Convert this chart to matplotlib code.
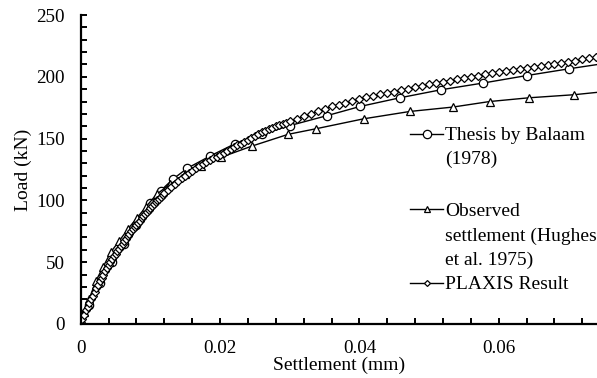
import matplotlib
matplotlib.use("Agg")
import matplotlib.pyplot as plt
from matplotlib.lines import Line2D
from matplotlib.ticker import MultipleLocator, FuncFormatter

plt.rcParams['font.family'] = ['Liberation Serif', 'DejaVu Serif']

# ---------------- data ----------------
thesis_x = [0, 0.0012, 0.0028, 0.0045, 0.0062, 0.008, 0.0099, 0.0115, 0.0133, 0.0153,
            0.0186, 0.0222, 0.026, 0.030, 0.0353, 0.0401, 0.0458, 0.0517, 0.0578, 0.064,
            0.0701, 0.076]
thesis_y = [0, 15, 33, 50, 65, 80, 97.6, 108, 117.5, 126,
            136, 146, 153.5, 160.5, 168.5, 176, 183, 189.5, 195, 201,
            206.5, 211.5]

observed_x = [0, 0.0005, 0.0012, 0.0022, 0.0032, 0.0043, 0.0055, 0.0068, 0.0081, 0.0094,
              0.0109, 0.0128, 0.015, 0.0172, 0.0202, 0.0246, 0.0298, 0.0338, 0.0406, 0.0473,
              0.0534, 0.0587, 0.0643, 0.0708, 0.076]
observed_y = [0, 10, 20, 35, 46, 58, 67, 77, 86, 95,
              105, 113, 121, 128, 135, 144, 153.5, 158, 166, 172,
              175.5, 180, 183, 185.5, 188.5]

plaxis_x = [0, 0.00025, 0.0005, 0.00075, 0.001, 0.00125, 0.0015, 0.00175, 0.002, 0.00225,
            0.0025, 0.00275, 0.003, 0.00325, 0.0035, 0.00375, 0.004, 0.00425, 0.0045, 0.00475,
            0.005, 0.00525, 0.0055, 0.00575, 0.006, 0.00625, 0.0065, 0.00675, 0.007, 0.00725,
            0.0075, 0.00775, 0.008, 0.00825, 0.0085, 0.00875, 0.009, 0.00925, 0.0095, 0.00975,
            0.01, 0.01025, 0.0105, 0.01075, 0.011, 0.01125, 0.0115, 0.01175, 0.012,
            0.0125, 0.013, 0.0135, 0.014, 0.0145, 0.015, 0.0155, 0.016, 0.0165, 0.017,
            0.0175, 0.018, 0.0185, 0.019, 0.0195, 0.02, 0.0205, 0.021, 0.0215, 0.022,
            0.0225, 0.023, 0.0235, 0.024, 0.0245, 0.025, 0.0255, 0.026, 0.0265, 0.027,
            0.0275, 0.028, 0.0285, 0.029, 0.0295, 0.03,
            0.031, 0.032, 0.033, 0.034, 0.035, 0.036, 0.037, 0.038, 0.039, 0.04,
            0.041, 0.042, 0.043, 0.044, 0.045, 0.046, 0.047, 0.048, 0.049, 0.05,
            0.051, 0.052, 0.053, 0.054, 0.055, 0.056, 0.057, 0.058, 0.059, 0.06,
            0.061, 0.062, 0.063, 0.064, 0.065, 0.066, 0.067, 0.068, 0.069, 0.07,
            0.071, 0.072, 0.073, 0.074]
plaxis_y = [0, 4, 7.5, 11, 14, 17, 20, 23, 26, 29,
            31.5, 34.5, 37, 40, 42.5, 45.5, 48, 50, 52.5, 55,
            57, 59, 61, 63, 65, 67, 69, 71, 73, 75,
            76.5, 78.5, 80, 82, 83.5, 85.5, 87, 89, 90.5, 92.5,
            94, 95.5, 97, 98.5, 100, 101.5, 103, 104.5, 106,
            108.5, 111, 113.5, 116, 118, 120, 122, 124, 126, 127.5,
            129.5, 131, 132.5, 134, 135.5, 137, 138.5, 140, 141.5, 143,
            144.5, 146, 147.5, 149, 150.5, 152, 153.5, 155, 156, 157.5,
            158.5, 160, 161, 162, 163, 164,
            166, 168, 170, 172, 174, 176, 177.5, 179, 180.5, 182,
            183.3, 184.5, 185.7, 187, 188, 189.2, 190.4, 191.6, 192.8, 194,
            195, 196, 197, 198, 199, 200, 201, 202, 203, 204,
            204.8, 205.6, 206.4, 207.2, 208, 208.8, 209.6, 210.4, 211.2, 212,
            213, 214, 215, 216]

labels = ["Thesis by Balaam\n(1978)",
          "Observed\nsettlement (Hughes\net al. 1975)",
          "PLAXIS Result"]
x_ticks = [0, 0.02, 0.04, 0.06]
y_ticks = [0, 50, 100, 150, 200, 250]

# ---------------- figure ----------------
W, H = 597, 378
fig = plt.figure(figsize=(W / 100, H / 100), dpi=100)
ax = fig.add_axes([80.7 / W, (H - 324) / H, (W - 80.7) / W, (324 - 15) / H])

common = dict(color='black', lw=1.0, markerfacecolor='white', markeredgecolor='black',
              markeredgewidth=0.9)
ax.plot(thesis_x, thesis_y, marker='o', markersize=6.0, **common)
ax.plot(observed_x, observed_y, marker='^', markersize=5.6, **common)
ax.plot(plaxis_x, plaxis_y, marker='D', markersize=3.7, **common)

ax.set_xlim(0, 0.0741)
ax.set_ylim(0, 250)
ax.set_xticks(x_ticks)
ax.set_yticks(y_ticks)
ax.xaxis.set_minor_locator(MultipleLocator(0.004))
ax.yaxis.set_minor_locator(MultipleLocator(10))
fmt = FuncFormatter(lambda v, p: f"{v:g}")
ax.xaxis.set_major_formatter(fmt)
ax.yaxis.set_major_formatter(fmt)

for s in ['top', 'right']:
    ax.spines[s].set_visible(False)
for s in ['left', 'bottom']:
    ax.spines[s].set_linewidth(1.6)
ax.tick_params(which='both', direction='in', length=4, width=1.4, labelsize=13.7, pad=11.5)
ax.tick_params(which='minor', length=4)

ax.set_xlabel("Settlement (mm)", fontsize=14, labelpad=0)
ax.set_ylabel("Load (kN)", fontsize=14, labelpad=3)

# ---------------- legend (drawn manually to match layout) ----------------
def fx(px):
    return px / W

def fy(py):
    return 1 - py / H

handles = [('o', 6.0), ('^', 4.0), ('D', 3.0)]
handle_y = [134, 209, 283]
line_baselines = [[140, 164], [216, 241, 265], [289]]
for (mk, ms), hy, lab, bases in zip(handles, handle_y, labels, line_baselines):
    fig.add_artist(Line2D([fx(410), fx(443)], [fy(hy), fy(hy)], transform=fig.transFigure,
                          color='black', lw=1.0))
    fig.add_artist(Line2D([fx(426.5)], [fy(hy)], transform=fig.transFigure, marker=mk,
                          markersize=ms, markerfacecolor='white', markeredgecolor='black',
                          markeredgewidth=0.9, linestyle='none'))
    for line, b in zip(lab.split("\n"), bases):
        fig.text(fx(445), fy(b), line, fontsize=14, va='baseline', ha='left')

fig.savefig("out.png", dpi=100)
